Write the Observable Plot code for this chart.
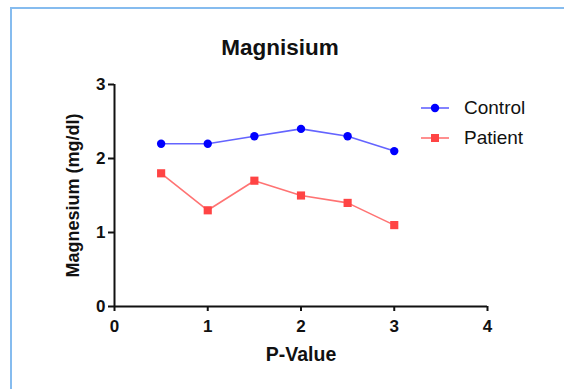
<!DOCTYPE html>
<html>
<head>
<meta charset="utf-8">
<script src="https://cdn.jsdelivr.net/npm/d3@7"></script>
<script src="https://cdn.jsdelivr.net/npm/@observablehq/plot@0.6"></script>
<style>
  html, body { margin: 0; padding: 0; background: #fff; }
  #wrap { position: relative; width: 564px; height: 389px; overflow: hidden; font-family: "Liberation Sans", Arial, sans-serif; }
  #border { position: absolute; left: 10px; top: 7px; right: -5px; bottom: -5px; border-top: 2px solid #86bcef; border-left: 2px solid #86bcef; }
  #chart { position: absolute; left: 0; top: 0; }
  #legend { position: absolute; left: 420px; top: 93px; font-size: 19px; color: #111; }
  .item { display: flex; align-items: center; height: 30px; }
  .item svg { margin-right: 14px; }
</style>
</head>
<body>
<div id="wrap">
  <div id="border"></div>
  <div id="chart"></div>
  <div id="legend"></div>
</div>
<script>
const xValues = [0.5, 1, 1.5, 2, 2.5, 3];
const control = [2.2, 2.2, 2.3, 2.4, 2.3, 2.1];
const patient = [1.8, 1.3, 1.7, 1.5, 1.4, 1.1];
const xTicks = [0, 1, 2, 3, 4];
const yTicks = [0, 1, 2, 3];
const seriesNames = ["Control", "Patient"];
const title = "Magnisium";
const xLabel = "P-Value";
const yLabel = "Magnesium (mg/dl)";

const colors = {Control: {mark: "#0000ff", line: "#6464ff", symbol: "circle", r: 4.2},
                Patient: {mark: "#ff4444", line: "#ff7373", symbol: "square", r: 4.6}};

const rows = [];
xValues.forEach((x, i) => {
  rows.push({series: "Control", x, y: control[i]});
  rows.push({series: "Patient", x, y: patient[i]});
});

const seriesMarks = seriesNames.flatMap(s => {
  const d = rows.filter(r => r.series === s);
  const c = colors[s];
  return [
    Plot.line(d, {x: "x", y: "y", stroke: c.line, strokeWidth: 1.6}),
    Plot.dot(d, {x: "x", y: "y", fill: c.mark, stroke: "none", symbol: c.symbol, r: c.r})
  ];
});

const font = "'Liberation Sans', Arial, sans-serif";
const chart = Plot.plot({
  width: 564,
  height: 389,
  marginLeft: 114,
  marginRight: 77,
  marginTop: 84,
  marginBottom: 83,
  style: {fontFamily: font, background: "transparent", color: "#111"},
  x: {domain: [0, 4]},
  y: {domain: [0, 3]},
  marks: [
    Plot.axisX({ticks: xTicks, tickSize: 5, tickPadding: 4, strokeWidth: 2, stroke: "#111", label: null, tickFormat: () => ""}),
    Plot.axisY({ticks: yTicks, tickSize: 6, tickPadding: 3, strokeWidth: 2, stroke: "#111", label: null, tickFormat: () => ""}),
    Plot.text(xTicks, {x: d => d, frameAnchor: "bottom", dy: 20, lineAnchor: "middle", textAnchor: "middle", text: d => String(d), fontSize: 17, fontWeight: "bold", fill: "#111"}),
    Plot.text(yTicks, {y: d => d, frameAnchor: "left", dx: -9, lineAnchor: "middle", textAnchor: "end", text: d => String(d), fontSize: 17, fontWeight: "bold", fill: "#111"}),
    Plot.ruleX([0], {y1: 0, y2: 3, strokeWidth: 2, stroke: "#111"}),
    Plot.ruleY([0], {x1: 0, x2: 4, strokeWidth: 2, stroke: "#111"}),
    ...seriesMarks,
    Plot.text([title], {frameAnchor: "top", dx: -21, dy: -37, lineAnchor: "middle", textAnchor: "middle", fontSize: 22.5, fontWeight: "bold", fill: "#111"}),
    Plot.text([xLabel], {frameAnchor: "bottom", dy: 48, lineAnchor: "middle", textAnchor: "middle", fontSize: 19.5, fontWeight: "bold", fill: "#111"}),
    Plot.text([yLabel], {frameAnchor: "left", dx: -41, rotate: -90, lineAnchor: "middle", textAnchor: "middle", fontSize: 18, fontWeight: "bold", fill: "#111"})
  ]
});
document.getElementById("chart").appendChild(chart);

const legend = document.getElementById("legend");
seriesNames.forEach(s => {
  const c = colors[s];
  const item = document.createElement("div");
  item.className = "item";
  const sym = c.symbol === "circle"
    ? `<circle cx="15" cy="8" r="4.2" fill="${c.mark}"/>`
    : `<rect x="11" y="4" width="8" height="8" fill="${c.mark}"/>`;
  item.innerHTML = `<svg width="30" height="16"><line x1="1" x2="29" y1="8" y2="8" stroke="${c.line}" stroke-width="1.6"/>${sym}</svg><span>${s}</span>`;
  legend.appendChild(item);
});
</script>
</body>
</html>
